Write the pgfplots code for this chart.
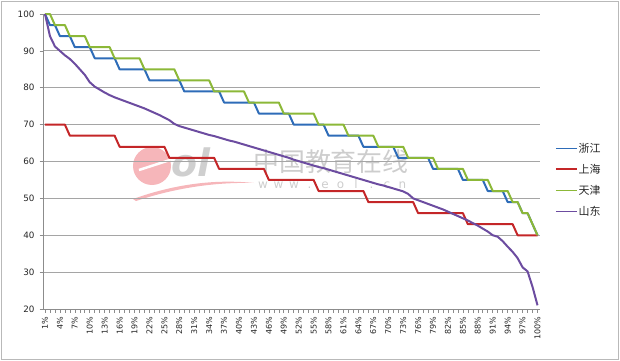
\documentclass[border=0pt]{standalone}
\usepackage{pgfplots}
\pgfplotsset{compat=1.18}
\usepackage{pgfplotstable}
\usepackage{fontspec}
\setmainfont{DejaVu Sans}
\newfontfamily\cjk{Noto Sans CJK SC}
\definecolor{zj}{RGB}{46,108,184}
\definecolor{sh}{RGB}{196,38,40}
\definecolor{tj}{RGB}{140,184,56}
\definecolor{sd}{RGB}{108,76,160}
\definecolor{gridc}{RGB}{165,165,165}
\definecolor{axc}{RGB}{140,140,140}
\definecolor{wm}{RGB}{205,205,205}
\definecolor{wmpink}{RGB}{246,182,186}

\pgfplotstableread{
p zj sh tj sd
1 100 70 100 100
2 97 70 100 94
3 97 70 97 91.2
4 94 70 97 90
5 94 70 97 88.8
6 94 67 94 87.8
7 91 67 94 86.5
8 91 67 94 85
9 91 67 94 83.5
10 91 67 91 81.5
11 88 67 91 80.3
12 88 67 91 79.5
13 88 67 91 78.7
14 88 67 91 78
15 88 67 88 77.4
16 85 64 88 76.9
17 85 64 88 76.4
18 85 64 88 75.9
19 85 64 88 75.4
20 85 64 88 74.9
21 85 64 85 74.4
22 82 64 85 73.8
23 82 64 85 73.2
24 82 64 85 72.6
25 82 64 85 71.9
26 82 61 85 71.2
27 82 61 85 70.2
28 82 61 82 69.6
29 79 61 82 69.2
30 79 61 82 68.8
31 79 61 82 68.4
32 79 61 82 68.0
33 79 61 82 67.6
34 79 61 82 67.2
35 79 61 79 66.9
36 79 58 79 66.5
37 76 58 79 66.1
38 76 58 79 65.7
39 76 58 79 65.4
40 76 58 79 65.0
41 76 58 79 64.6
42 76 58 76 64.2
43 76 58 76 63.8
44 73 58 76 63.4
45 73 58 76 63.0
46 73 55 76 62.6
47 73 55 76 62.2
48 73 55 76 61.8
49 73 55 73 61.4
50 73 55 73 61.0
51 70 55 73 60.5
52 70 55 73 60.1
53 70 55 73 59.7
54 70 55 73 59.3
55 70 55 73 58.9
56 70 52 70 58.5
57 70 52 70 58.2
58 67 52 70 57.8
59 67 52 70 57.4
60 67 52 70 57.0
61 67 52 70 56.6
62 67 52 67 56.2
63 67 52 67 55.8
64 67 52 67 55.4
65 64 52 67 55.0
66 64 49 67 54.6
67 64 49 67 54.2
68 64 49 64 53.8
69 64 49 64 53.5
70 64 49 64 53.1
71 64 49 64 52.7
72 61 49 64 52.3
73 61 49 64 51.9
74 61 49 61 51.2
75 61 49 61 50.0
76 61 46 61 49.5
77 61 46 61 49.0
78 61 46 61 48.5
79 58 46 61 48.0
80 58 46 58 47.5
81 58 46 58 47.0
82 58 46 58 46.4
83 58 46 58 45.8
84 58 46 58 45.2
85 55 46 58 44.6
86 55 43 55 44.0
87 55 43 55 43.3
88 55 43 55 42.6
89 55 43 55 41.8
90 52 43 55 41.0
91 52 43 52 40.0
92 52 43 52 39.6
93 52 43 52 38.4
94 49 43 52 36.9
95 49 43 49 35.5
96 49 40 49 33.8
97 46 40 46 31.3
98 46 40 46 30.2
99 43 40 43 26.0
100 40 40 40 21.0
}\data

\begin{document}
\begin{tikzpicture}
\useasboundingbox (0,0) rectangle (620bp,-361bp);
\begin{scope}[x=1bp,y=-1bp]
  % outer frame
  \draw[gray!55, line width=0.9bp] (1.5,1.5) rectangle (618.5,359);
  % watermark
  \fill[wmpink] (152,166) ellipse [x radius=19, y radius=19];
  \draw[white, line width=2.5bp] (139,170) -- (170,160);
  \fill[wmpink] (133,199) .. controls (175,184) and (215,179) .. (254,183)
     .. controls (215,182) and (175,188) .. (136,201) -- cycle;
  \node[text=gray!38, font=\bfseries\itshape\fontsize{38}{38}\selectfont, anchor=west, inner sep=0] at (171,162) {ol};
  \node[text=wm, font=\cjk\fontsize{26}{26}\selectfont, anchor=west, inner sep=0] at (253,162) {中国教育在线};
  \node[text=wm, font=\fontsize{12}{12}\selectfont, anchor=west, inner sep=0] at (255,184)
    {\makebox[15.5bp][c]{w}\makebox[15.5bp][c]{w}\makebox[15.5bp][c]{w}\makebox[15.5bp][c]{.}\makebox[15.5bp][c]{e}\makebox[15.5bp][c]{o}\makebox[15.5bp][c]{l}\makebox[15.5bp][c]{.}\makebox[15.5bp][c]{c}\makebox[15.5bp][c]{n}};
\end{scope}
\begin{axis}[
  at={(43bp,-309bp)}, anchor=south west,
  scale only axis, width=497bp, height=295bp,
  xmin=0.6, xmax=100.5, ymin=20, ymax=100,
  clip=false,
  axis x line*=bottom, axis y line*=left,
  axis line style={axc, line width=0.8bp, -},
  xtick={1,4,...,100}, minor xtick={1,...,100},
  xticklabel={\pgfmathprintnumber{\tick}\%},
  ytick={20,30,...,100},
  ymajorgrids, grid style={gridc, line width=1bp},
  tick style={axc, line width=0.6bp},
  tick align=outside, major tick length=3.5bp, minor tick length=3.5bp,
  xticklabel shift=3.5bp, yticklabel shift=1.5bp,
  xticklabel style={rotate=90, anchor=east, font=\fontsize{8}{8}\selectfont, text=black!85, inner sep=1bp},
  yticklabel style={font=\fontsize{8.8}{9}\selectfont, text=black!85},
  /pgf/number format/assume math mode=true,
  legend style={at={(1.03,0.567)}, anchor=north west, draw=none, fill=none,
    font=\cjk\fontsize{11}{13}\selectfont, row sep=8.3bp, inner sep=0pt,
    nodes={inner sep=1bp, text=black!85}},
  legend cell align=left,
  legend image code/.code={\draw[#1, line width=1.5bp] (0bp,0bp) -- (21bp,0bp);},
]
\addplot[zj, line width=2bp, line join=round] table[x=p, y=zj] {\data};
\addlegendentry{浙江}
\addplot[sh, line width=2bp, line join=round] table[x=p, y=sh] {\data};
\addlegendentry{上海}
\addplot[tj, line width=2bp, line join=round] table[x=p, y=tj] {\data};
\addlegendentry{天津}
\addplot[sd, line width=2bp, line join=round] table[x=p, y=sd] {\data};
\addlegendentry{山东}
\end{axis}
\end{tikzpicture}
\end{document}
